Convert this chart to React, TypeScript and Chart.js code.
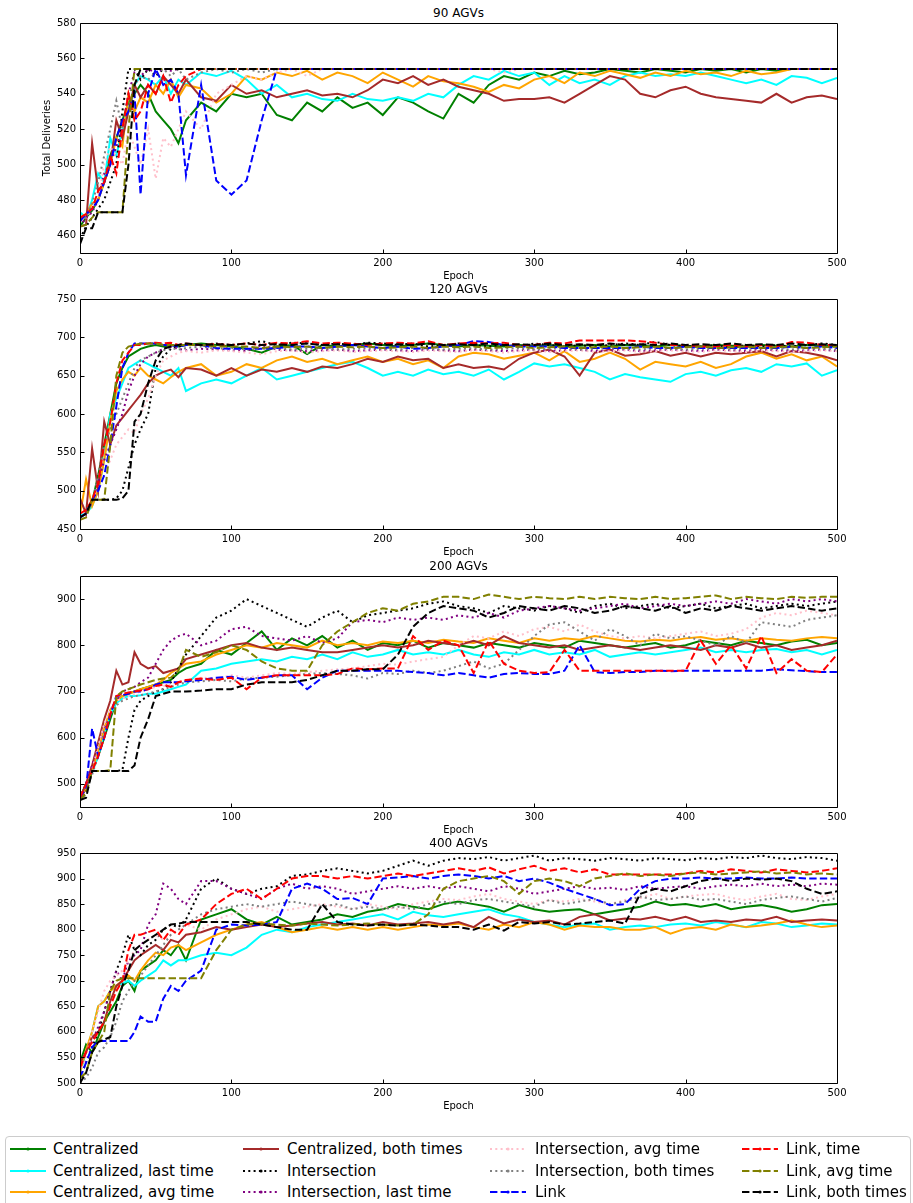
import React, { useEffect, useRef } from "react";
import { Chart, registerables } from "chart.js";

Chart.register(...registerables);

const FONT = '"DejaVu Sans", "Liberation Sans", sans-serif';

// Sampled epochs shared by every series
const EPOCHS = [
  0, 4, 8, 12, 16, 20, 24, 28, 32, 36,
  40, 45, 50, 55, 60, 65, 70, 80, 90, 100,
  110, 120, 130, 140, 150, 160, 170, 180, 190, 200,
  210, 220, 230, 240, 250, 260, 270, 280, 290, 300,
  310, 320, 330, 340, 350, 360, 370, 380, 390, 400,
  410, 420, 430, 440, 450, 460, 470, 480, 490, 500,
];

const X_TICKS = [0, 100, 200, 300, 400, 500];
const Y_TICKS_90 = [460, 480, 500, 520, 540, 560, 580];
const Y_TICKS_120 = [450, 500, 550, 600, 650, 700, 750];
const Y_TICKS_200 = [500, 600, 700, 800, 900];
const Y_TICKS_400 = [500, 550, 600, 650, 700, 750, 800, 850, 900, 950];

const SERIES_LABELS = [
  "Centralized", "Centralized, last time", "Centralized, avg time", "Centralized, both times",
  "Intersection", "Intersection, last time", "Intersection, avg time", "Intersection, both times",
  "Link", "Link, time", "Link, avg time", "Link, both times",
];
const SERIES_COLORS = [
  "#008000", "#00ffff", "#ffa500", "#a52a2a",
  "#000000", "#800080", "#ffc0cb", "#808080",
  "#0000ff", "#ff0000", "#808000", "#000000",
];
const SOLID: number[] = [];
const DOTTED = [2, 3.3];
const DASHED = [7.4, 3.2];
const SERIES_DASH = [
  SOLID, SOLID, SOLID, SOLID,
  DOTTED, DOTTED, DOTTED, DOTTED,
  DASHED, DASHED, DASHED, DASHED,
];

// ---------- 90 AGVs ----------
const centralized90 = [
  465, 470, 474, 480, 490, 505, 515, 525, 535, 540,
  545, 540, 530, 525, 520, 512, 525, 535, 530, 540,
  538, 540, 528, 525, 535, 530, 538, 532, 535, 528,
  538, 535, 530, 526, 540, 535, 545, 550, 548, 552,
  550, 553, 551, 552, 554, 553, 552, 554, 553, 552,
  554, 553, 554, 552, 554, 553, 554, 554, 554, 554,
];
const centralizedLast90 = [
  473, 470, 480, 495, 490, 515, 505, 520, 530, 545,
  550, 548, 545, 550, 540, 548, 545, 552, 550, 553,
  548, 540, 545, 538, 540, 537, 536, 540, 537, 536,
  538, 536, 540, 538, 545, 550, 548, 553, 550, 552,
  545, 550, 546, 548, 545, 550, 552, 550, 551, 550,
  552, 550, 548, 546, 548, 545, 550, 549, 546, 549,
];
const centralizedAvg90 = [
  470, 472, 478, 480, 490, 500, 515, 510, 540, 530,
  538, 535, 545, 540, 548, 538, 545, 543, 535, 540,
  550, 548, 552, 550, 553, 548, 552, 550, 546, 552,
  548, 544, 550, 547, 546, 544, 541, 545, 543, 548,
  550, 546, 552, 550, 553, 551, 549, 552, 550, 553,
  551, 552, 550, 553, 551, 552, 554, 554, 554, 554,
];
const centralizedBoth90 = [
  465, 466, 512, 485, 490, 500, 525, 515, 530, 545,
  538, 545, 540, 550, 545, 540, 548, 538, 536, 545,
  540, 542, 538, 540, 542, 539, 540, 538, 542, 548,
  546, 550, 545, 548, 544, 542, 540, 536, 537, 537,
  538, 535, 540, 545, 550, 548, 540, 538, 542, 544,
  540, 538, 537, 536, 535, 540, 535, 538, 539, 537,
];
const intersection90 = [
  458, 465, 470, 475, 480, 490, 500, 530, 554, 554,
  548, 554, 550, 554, 554, 554, 554, 554, 554, 554,
  554, 554, 554, 554, 554, 554, 554, 554, 554, 554,
  554, 554, 554, 554, 554, 554, 554, 554, 554, 554,
  554, 554, 554, 554, 554, 554, 554, 554, 554, 554,
  554, 554, 554, 554, 554, 554, 554, 554, 554, 554,
];
const intersectionLast90 = [
  465, 470, 473, 480, 495, 500, 510, 520, 540, 552,
  550, 554, 552, 554, 553, 554, 554, 554, 554, 554,
  554, 554, 554, 554, 554, 554, 554, 554, 554, 554,
  554, 554, 554, 554, 554, 554, 554, 554, 554, 554,
  554, 554, 554, 554, 554, 554, 554, 554, 554, 554,
  554, 554, 554, 554, 554, 554, 554, 554, 554, 554,
];
const intersectionAvg90 = [
  468, 470, 475, 480, 500, 510, 505, 500, 520, 510,
  500, 520, 492, 515, 510, 520, 530, 520, 540, 545,
  550, 548, 552, 554, 550, 554, 554, 554, 554, 554,
  554, 554, 554, 554, 554, 554, 554, 552, 554, 554,
  554, 554, 554, 554, 554, 554, 554, 554, 554, 554,
  554, 554, 554, 554, 554, 554, 554, 554, 554, 554,
];
const intersectionBoth90 = [
  468, 470, 478, 490, 505, 520, 536, 520, 540, 545,
  550, 548, 552, 554, 550, 554, 548, 552, 554, 552,
  554, 552, 554, 554, 554, 554, 554, 554, 554, 554,
  554, 554, 554, 554, 554, 554, 554, 554, 554, 554,
  554, 554, 554, 554, 554, 554, 554, 554, 554, 554,
  554, 554, 554, 554, 554, 554, 554, 554, 554, 554,
];
const link90 = [
  468, 472, 475, 480, 490, 500, 515, 525, 530, 540,
  483, 540, 554, 545, 548, 540, 494, 545, 491, 483,
  491, 525, 554, 554, 554, 554, 554, 554, 554, 554,
  554, 554, 554, 554, 554, 554, 554, 554, 554, 554,
  554, 554, 554, 554, 554, 554, 554, 554, 554, 554,
  554, 554, 554, 554, 554, 554, 554, 554, 554, 554,
];
const linkTime90 = [
  470, 472, 475, 485, 490, 505, 495, 520, 540, 525,
  530, 545, 540, 550, 535, 545, 550, 554, 554, 554,
  554, 554, 554, 554, 554, 554, 554, 554, 554, 554,
  554, 554, 554, 554, 554, 554, 554, 554, 554, 554,
  554, 554, 554, 554, 554, 554, 554, 554, 554, 554,
  554, 554, 554, 554, 554, 554, 554, 554, 554, 554,
];
const linkAvg90 = [
  465, 466, 470, 473, 473, 473, 473, 473, 520, 554,
  554, 554, 554, 554, 554, 554, 554, 554, 554, 554,
  554, 554, 554, 554, 554, 554, 554, 554, 554, 554,
  554, 554, 554, 554, 554, 554, 554, 554, 554, 554,
  554, 554, 554, 554, 554, 554, 554, 554, 554, 554,
  554, 554, 554, 554, 554, 554, 554, 554, 554, 554,
];
const linkBoth90 = [
  455, 464, 464, 473, 473, 473, 473, 473, 500, 545,
  554, 554, 554, 554, 554, 554, 554, 554, 554, 554,
  554, 554, 554, 554, 554, 554, 554, 554, 554, 554,
  554, 554, 554, 554, 554, 554, 554, 554, 554, 554,
  554, 554, 554, 554, 554, 554, 554, 554, 554, 554,
  554, 554, 554, 554, 554, 554, 554, 554, 554, 554,
];

// ---------- 120 AGVs ----------
const centralized120 = [
  465, 470, 485, 520, 560, 600, 640, 660, 675, 680,
  685, 688, 690, 688, 690, 688, 690, 692, 690, 688,
  685, 680, 688, 690, 678, 690, 688, 690, 692, 690,
  688, 690, 692, 690, 688, 690, 689, 688, 690, 689,
  690, 688, 689, 690, 688, 690, 689, 688, 690, 689,
  688, 690, 689, 688, 690, 689, 688, 690, 689, 688,
];
const centralizedLast120 = [
  468, 470, 480, 500, 540, 600, 620, 640, 660, 665,
  670, 665, 660, 655, 650, 660, 630, 640, 645, 640,
  650, 660, 645, 650, 655, 660, 665, 668, 660, 650,
  655, 650, 658, 652, 655, 650, 658, 645, 655, 666,
  662, 665, 660, 655, 645, 652, 648, 645, 642, 652,
  655, 650, 657, 660, 655, 665, 662, 666, 650, 657,
];
const centralizedAvg120 = [
  468, 515, 480, 500, 540, 590, 630, 645, 655, 650,
  660, 650, 645, 640, 648, 655, 660, 665, 650, 655,
  665, 660, 670, 675, 668, 672, 665, 670, 675, 668,
  672, 665, 670, 660, 675, 680, 678, 672, 676, 680,
  670, 682, 668, 672, 680, 672, 658, 668, 665, 662,
  668, 660, 665, 675, 680, 672, 678, 670, 675, 662,
];
const centralizedBoth120 = [
  490, 470, 555, 500, 590, 560, 585, 595, 605, 615,
  625, 640, 650, 655, 658, 648, 660, 658, 650, 660,
  650, 658, 655, 660, 655, 662, 660, 665, 672, 668,
  675, 670, 672, 660, 665, 660, 662, 658, 672, 680,
  684, 675, 650, 680, 684, 676, 678, 682, 676, 680,
  675, 680, 678, 680, 682, 675, 682, 680, 676, 670,
];
const intersection120 = [
  465, 470, 488, 488, 488, 488, 490, 500, 530, 560,
  580, 600, 660, 675, 685, 688, 690, 690, 692, 690,
  692, 695, 690, 693, 692, 690, 692, 690, 693, 692,
  690, 692, 688, 690, 692, 690, 688, 690, 688, 692,
  690, 688, 690, 688, 690, 692, 690, 694, 690, 688,
  688, 690, 686, 690, 688, 690, 688, 690, 692, 690,
];
const intersectionLast120 = [
  465, 470, 485, 510, 540, 560, 580, 600, 630, 650,
  665, 675, 680, 685, 688, 685, 683, 685, 684, 683,
  682, 690, 684, 683, 682, 683, 684, 682, 683, 684,
  683, 682, 684, 683, 682, 684, 683, 682, 683, 684,
  682, 683, 684, 682, 683, 684, 682, 683, 684, 683,
  682, 684, 683, 682, 684, 683, 682, 683, 684, 682,
];
const intersectionAvg120 = [
  465, 470, 488, 500, 520, 540, 560, 570, 580, 575,
  600, 620, 650, 670, 675, 680, 682, 680, 683, 682,
  680, 678, 682, 683, 680, 682, 683, 681, 682, 683,
  682, 681, 683, 682, 681, 683, 682, 680, 682, 683,
  681, 682, 683, 681, 682, 683, 681, 682, 683, 682,
  681, 683, 682, 681, 683, 682, 681, 682, 683, 682,
];
const intersectionBoth120 = [
  465, 470, 485, 520, 560, 580, 600, 620, 640, 660,
  670, 675, 680, 683, 686, 684, 686, 688, 685, 686,
  684, 685, 686, 684, 685, 686, 684, 685, 686, 685,
  684, 686, 685, 684, 685, 686, 684, 685, 686, 684,
  685, 686, 684, 685, 686, 685, 684, 686, 685, 684,
  685, 686, 684, 685, 686, 685, 684, 686, 685, 684,
];
const link120 = [
  465, 470, 488, 500, 520, 560, 610, 660, 680, 692,
  692, 692, 692, 690, 690, 688, 690, 690, 686, 685,
  685, 685, 686, 688, 688, 686, 688, 690, 688, 686,
  688, 685, 686, 688, 690, 695, 694, 690, 688, 688,
  688, 686, 686, 686, 686, 686, 688, 686, 686, 688,
  686, 686, 686, 686, 686, 686, 688, 686, 688, 686,
];
const linkTime120 = [
  470, 475, 488, 510, 560, 590, 640, 670, 680, 690,
  690, 692, 693, 692, 693, 690, 692, 690, 691, 690,
  692, 690, 693, 692, 695, 692, 693, 692, 690, 692,
  693, 692, 695, 690, 692, 693, 692, 693, 690, 690,
  693, 692, 696, 696, 696, 696, 695, 693, 690, 690,
  688, 688, 690, 688, 690, 688, 694, 693, 690, 690,
];
const linkAvg120 = [
  462, 465, 488, 488, 488, 560, 650, 680, 688, 690,
  692, 692, 692, 690, 690, 690, 690, 690, 688, 688,
  688, 686, 688, 687, 688, 686, 688, 687, 688, 686,
  687, 688, 686, 688, 687, 688, 686, 687, 688, 686,
  687, 688, 686, 687, 688, 686, 687, 688, 686, 687,
  688, 686, 687, 688, 686, 687, 688, 686, 687, 688,
];
const linkBoth120 = [
  465, 470, 488, 488, 488, 488, 488, 490, 500, 590,
  600, 640, 670, 685, 688, 690, 692, 690, 691, 690,
  692, 690, 691, 690, 692, 690, 691, 690, 692, 690,
  691, 690, 692, 690, 691, 690, 692, 690, 691, 690,
  692, 690, 691, 690, 692, 690, 691, 690, 692, 690,
  691, 690, 692, 690, 691, 690, 692, 690, 691, 690,
];

// ---------- 200 AGVs ----------
const centralized200 = [
  470, 500, 530, 560, 600, 640, 680, 690, 695, 700,
  705, 710, 715, 720, 725, 740, 750, 760, 790, 780,
  805, 830, 790, 815, 800, 820, 795, 810, 790, 805,
  800, 810, 795, 805, 800, 795, 805, 800, 795, 805,
  800, 795, 810, 805, 800, 795, 800, 805, 795, 800,
  810, 805, 800, 810, 805, 800, 808, 812, 800, 805,
];
const centralizedLast200 = [
  470, 495, 525, 560, 610, 650, 675, 685, 690, 690,
  692, 695, 695, 700, 705, 710, 715, 745, 750, 760,
  765, 770, 765, 775, 770, 780, 770, 785, 775, 780,
  790, 780, 785, 780, 790, 780, 775, 785, 780, 790,
  780, 785, 780, 790, 775, 780, 785, 780, 785, 790,
  795, 785, 790, 785, 790, 792, 785, 790, 780, 790,
];
const centralizedAvg200 = [
  465, 490, 530, 570, 620, 660, 680, 690, 695, 700,
  705, 710, 715, 725, 740, 750, 760, 765, 780, 790,
  800, 795, 805, 800, 795, 810, 800, 805, 800, 808,
  805, 810, 805, 812, 808, 805, 815, 810, 805, 815,
  810, 815, 812, 820, 815, 810, 808, 812, 810, 815,
  818, 812, 815, 810, 815, 812, 810, 815, 818, 815,
];
const centralizedBoth200 = [
  470, 500, 540, 590, 640, 680, 745, 715, 720, 785,
  760, 750, 755, 740, 745, 750, 770, 780, 790, 800,
  805, 795, 790, 795, 790, 785, 785, 790, 795, 800,
  795, 800, 810, 805, 800, 810, 800, 820, 805, 800,
  795, 800, 790, 795, 800, 795, 790, 795, 800, 795,
  790, 800, 795, 805, 795, 800, 790, 795, 800, 810,
];
const intersection200 = [
  465, 480, 528, 528, 528, 528, 528, 530, 600, 660,
  680, 690, 700, 705, 720, 750, 780, 820, 860, 875,
  900, 885, 870, 855, 840, 860, 875, 850, 865, 870,
  875, 880, 890, 895, 885, 880, 870, 885, 880, 875,
  885, 880, 870, 885, 890, 880, 885, 890, 880, 885,
  890, 880, 885, 890, 880, 885, 890, 885, 890, 895,
];
const intersectionLast200 = [
  470, 500, 540, 580, 620, 650, 680, 700, 705, 710,
  720, 730, 760, 790, 810, 820, 825, 800, 810, 835,
  840, 820, 815, 810, 820, 805, 815, 850, 855, 850,
  860, 855, 860, 855, 865, 860, 870, 860, 875, 880,
  885, 880, 875, 880, 885, 890, 880, 885, 890, 885,
  890, 895, 890, 900, 895, 890, 900, 895, 900, 895,
];
const intersectionAvg200 = [
  470, 495, 530, 580, 630, 660, 680, 685, 690, 695,
  700, 705, 710, 712, 715, 720, 725, 730, 728, 735,
  730, 735, 740, 738, 742, 745, 748, 750, 755, 760,
  758, 765, 770, 775, 800, 820, 815, 830, 820, 835,
  840, 830, 845, 830, 820, 815, 820, 815, 820, 825,
  830, 820, 825, 835, 860, 870, 865, 875, 870, 865,
];
const intersectionBoth200 = [
  470, 490, 520, 560, 610, 650, 670, 680, 685, 690,
  692, 695, 700, 705, 710, 715, 720, 722, 725, 722,
  728, 730, 732, 735, 738, 740, 738, 735, 728, 740,
  738, 745, 740, 745, 755, 765, 750, 760, 790, 820,
  845, 850, 830, 810, 835, 820, 800, 825, 815, 820,
  810, 800, 820, 805, 850, 845, 840, 855, 860, 865,
];
const link200 = [
  470, 490, 620, 560, 600, 650, 690, 692, 695, 700,
  700, 705, 715, 720, 720, 720, 722, 725, 730, 732,
  725, 730, 735, 735, 705, 730, 745, 745, 745, 745,
  745, 742, 740, 735, 740, 735, 730, 738, 740, 738,
  738, 745, 800, 742, 740, 742, 742, 745, 744, 745,
  745, 745, 745, 745, 745, 748, 746, 744, 742, 742,
];
const linkTime200 = [
  470, 500, 528, 560, 600, 650, 690, 695, 698, 700,
  702, 705, 712, 715, 710, 720, 725, 728, 725, 730,
  705, 730, 735, 735, 735, 735, 738, 750, 748, 750,
  750, 820, 790, 810, 800, 740, 810, 760, 745, 740,
  742, 790, 745, 745, 745, 745, 745, 745, 745, 745,
  810, 760, 800, 750, 820, 740, 770, 745, 742, 780,
];
const linkAvg200 = [
  465, 480, 528, 528, 528, 530, 690, 700, 705, 710,
  715, 720, 725, 728, 730, 745, 790, 775, 785, 800,
  790, 765, 750, 745, 745, 800, 830, 850, 870, 880,
  875, 890, 895, 905, 905, 900, 910, 905, 900, 905,
  902, 900, 905, 900, 905, 902, 900, 905, 900, 902,
  905, 908, 900, 905, 902, 900, 905, 903, 905, 905,
];
const linkBoth200 = [
  465, 470, 528, 528, 528, 528, 528, 528, 528, 540,
  600, 640, 690, 695, 700, 700, 700, 702, 705, 705,
  715, 720, 720, 720, 725, 735, 745, 745, 748, 748,
  780, 840, 870, 885, 880, 875, 860, 870, 885, 880,
  875, 885, 880, 870, 875, 885, 880, 875, 885, 870,
  880, 875, 885, 880, 875, 880, 885, 880, 875, 880,
];

// ---------- 400 AGVs ----------
const centralized400 = [
  540, 575, 560, 590, 620, 640, 660, 690, 700, 680,
  720, 730, 740, 760, 750, 770, 740, 820, 830, 840,
  820, 810, 825, 810, 815, 820, 830, 825, 835, 840,
  850, 845, 840, 850, 855, 850, 845, 835, 848, 840,
  835, 838, 840, 830, 835, 840, 845, 855, 848, 850,
  845, 850, 840, 845, 848, 843, 835, 840, 848, 850,
];
const centralizedLast400 = [
  520, 560, 600, 650, 660, 680, 690, 695, 700, 690,
  700, 710, 720, 740, 730, 740, 740, 750, 755, 750,
  765, 790, 800, 795, 805, 810, 815, 820, 825, 830,
  820, 835, 828, 825, 830, 835, 840, 830, 825, 815,
  810, 805, 810, 812, 800, 805, 808, 805, 810, 812,
  808, 815, 810, 805, 815, 812, 805, 808, 812, 810,
];
const centralizedAvg400 = [
  520, 565, 600, 650, 660, 680, 690, 700, 710, 700,
  720, 740, 755, 750, 765, 770, 760, 775, 790, 800,
  810, 815, 805, 795, 800, 805, 800, 805, 800, 805,
  800, 805, 810, 808, 812, 805, 800, 810, 805, 815,
  810, 800, 808, 805, 805, 800, 800, 805, 792, 802,
  805, 800, 810, 805, 808, 812, 818, 810, 805, 808,
];
const centralizedBoth400 = [
  540, 560, 590, 600, 620, 660, 690, 700, 720, 740,
  750, 760, 770, 760, 780, 775, 790, 795, 805, 800,
  805, 810, 805, 808, 812, 815, 810, 812, 808, 815,
  810, 812, 815, 810, 815, 805, 825, 812, 820, 815,
  818, 810, 825, 830, 818, 822, 820, 825, 818, 825,
  815, 818, 815, 820, 818, 825, 815, 818, 820, 818,
];
const intersection400 = [
  510, 540, 570, 600, 640, 680, 720, 750, 790, 760,
  750, 770, 780, 800, 810, 805, 820, 880, 900, 880,
  870, 880, 885, 905, 908, 915, 920, 915, 910, 915,
  925, 935, 925, 935, 940, 938, 942, 935, 940, 945,
  935, 940, 938, 935, 940, 938, 935, 940, 938, 936,
  940, 938, 942, 940, 945, 940, 938, 942, 940, 935,
];
const intersectionLast400 = [
  520, 560, 580, 610, 640, 680, 720, 700, 740, 750,
  760, 810, 830, 890, 880, 860, 850, 895, 895, 880,
  870, 860, 880, 890, 880, 885, 880, 870, 875, 880,
  885, 880, 885, 880, 885, 880, 875, 885, 880, 870,
  875, 880, 885, 880, 882, 878, 885, 880, 883, 885,
  880, 885, 888, 885, 890, 885, 888, 885, 890, 888,
];
const intersectionAvg400 = [
  520, 550, 600, 640, 680, 700, 710, 720, 740, 760,
  770, 780, 790, 780, 790, 800, 810, 800, 820, 830,
  840, 845, 835, 840, 845, 850, 845, 840, 850, 845,
  840, 850, 855, 860, 858, 865, 870, 860, 855, 850,
  858, 855, 860, 855, 850, 858, 862, 870, 860, 865,
  868, 870, 862, 858, 865, 870, 860, 858, 865, 870,
];
const intersectionBoth400 = [
  500, 510, 530, 560, 570, 590, 620, 660, 680, 700,
  710, 730, 750, 770, 790, 800, 810, 830, 840, 845,
  850, 845, 850, 855, 850, 845, 850, 840, 845, 840,
  845, 840, 850, 855, 850, 858, 860, 855, 850, 845,
  858, 850, 855, 860, 850, 855, 865, 858, 860, 865,
  858, 860, 855, 850, 858, 862, 865, 860, 855, 862,
];
const link400 = [
  510, 540, 570, 582, 582, 582, 582, 582, 582, 600,
  630, 620, 620, 665, 690, 680, 700, 720, 800, 810,
  808, 810, 815, 880, 890, 880, 860, 862, 850, 900,
  902, 905, 900, 905, 908, 905, 900, 905, 895, 900,
  892, 880, 870, 860, 848, 850, 880, 895, 900, 900,
  902, 900, 900, 902, 900, 900, 902, 900, 900, 900,
];
const linkTime400 = [
  530, 560, 580, 600, 620, 650, 680, 700, 760, 790,
  790, 795, 800, 780, 800, 790, 810, 820, 850, 870,
  880, 860, 880, 900, 905, 905, 900, 905, 900, 905,
  910, 905, 910, 915, 920, 915, 922, 910, 918, 925,
  915, 920, 912, 918, 908, 908, 908, 908, 908, 910,
  915, 912, 918, 915, 912, 918, 915, 912, 915, 920,
];
const linkAvg400 = [
  510, 520, 560, 580, 600, 680, 700, 705, 705, 705,
  705, 705, 705, 705, 705, 705, 705, 705, 760, 800,
  810, 812, 810, 808, 812, 810, 808, 810, 812, 810,
  808, 810, 830, 880, 895, 900, 905, 895, 870, 895,
  900, 895, 885, 900, 905, 910, 905, 908, 905, 910,
  912, 908, 910, 912, 914, 910, 912, 908, 910, 908,
];
const linkBoth400 = [
  500, 520, 560, 580, 585, 590, 650, 690, 720, 760,
  770, 780, 790, 800, 810, 812, 815, 815, 815, 815,
  815, 810, 805, 800, 800, 850, 815, 810, 808, 810,
  808, 810, 808, 805, 805, 800, 810, 798, 815, 812,
  815, 810, 812, 815, 818, 812, 870, 880, 875, 885,
  895, 900, 895, 900, 898, 900, 895, 880, 870, 875,
];

type PanelDef = {
  title: string;
  top: number;
  height: number;
  yMin: number;
  yMax: number;
  yTicks: number[];
  yLabel?: string;
  series: number[][];
};

const PLOT_LEFT = 80;
const PLOT_RIGHT = 837;
const PAD_TOP = 10;
const X_AXIS_H = 24;

const PANELS: PanelDef[] = [
  {
    title: "90 AGVs", top: 23, height: 230, yMin: 450, yMax: 580, yTicks: Y_TICKS_90,
    yLabel: "Total Deliveries",
    series: [centralized90, centralizedLast90, centralizedAvg90, centralizedBoth90,
      intersection90, intersectionLast90, intersectionAvg90, intersectionBoth90,
      link90, linkTime90, linkAvg90, linkBoth90],
  },
  {
    title: "120 AGVs", top: 299, height: 230, yMin: 450, yMax: 750, yTicks: Y_TICKS_120,
    series: [centralized120, centralizedLast120, centralizedAvg120, centralizedBoth120,
      intersection120, intersectionLast120, intersectionAvg120, intersectionBoth120,
      link120, linkTime120, linkAvg120, linkBoth120],
  },
  {
    title: "200 AGVs", top: 576, height: 231, yMin: 450, yMax: 950, yTicks: Y_TICKS_200,
    series: [centralized200, centralizedLast200, centralizedAvg200, centralizedBoth200,
      intersection200, intersectionLast200, intersectionAvg200, intersectionBoth200,
      link200, linkTime200, linkAvg200, linkBoth200],
  },
  {
    title: "400 AGVs", top: 853, height: 230, yMin: 500, yMax: 950, yTicks: Y_TICKS_400,
    series: [centralized400, centralizedLast400, centralizedAvg400, centralizedBoth400,
      intersection400, intersectionLast400, intersectionAvg400, intersectionBoth400,
      link400, linkTime400, linkAvg400, linkBoth400],
  },
];

// Axes frame plus inward-pointing ticks on the bottom and left spines
const framePlugin = {
  id: "frame",
  afterDraw(chart: any) {
    const { ctx, chartArea: a, scales } = chart;
    const l = Math.round(a.left) + 0.5;
    const r = Math.round(a.right) + 0.5;
    const t = Math.round(a.top) + 0.5;
    const b = Math.round(a.bottom) + 0.5;
    ctx.save();
    ctx.strokeStyle = "#000";
    ctx.lineWidth = 1;
    ctx.beginPath();
    ctx.rect(l, t, r - l, b - t);
    for (const tk of scales.x.ticks) {
      const px = Math.round(scales.x.getPixelForValue(tk.value)) + 0.5;
      ctx.moveTo(px, b);
      ctx.lineTo(px, b - 4);
    }
    for (const tk of scales.y.ticks) {
      const py = Math.round(scales.y.getPixelForValue(tk.value)) + 0.5;
      ctx.moveTo(l, py);
      ctx.lineTo(l + 4, py);
    }
    ctx.stroke();
    ctx.restore();
  },
};

function Panel({ def }: { def: PanelDef }) {
  const ref = useRef<HTMLCanvasElement | null>(null);
  const canvasH = PAD_TOP + def.height + X_AXIS_H;

  useEffect(() => {
    if (!ref.current) return;
    const tickFont = { family: FONT, size: 10 };
    const chart = new Chart(ref.current, {
      type: "line",
      data: {
        datasets: def.series.map((vals, i) => ({
          label: SERIES_LABELS[i],
          data: EPOCHS.map((e, j) => ({ x: e, y: vals[j] })),
          borderColor: SERIES_COLORS[i],
          backgroundColor: SERIES_COLORS[i],
          borderWidth: 2,
          borderDash: SERIES_DASH[i],
          pointRadius: 0,
          tension: 0,
          fill: false,
          order: SERIES_LABELS.length - i,
        })),
      },
      options: {
        responsive: false,
        animation: false,
        devicePixelRatio: 1,
        events: [],
        layout: { padding: { top: PAD_TOP, right: 913 - PLOT_RIGHT, left: 0, bottom: 0 } },
        plugins: {
          legend: { display: false },
          tooltip: { enabled: false },
          title: { display: false },
        },
        scales: {
          x: {
            type: "linear",
            min: 0,
            max: 500,
            grid: { display: false, drawTicks: false },
            border: { display: false },
            ticks: { font: tickFont, color: "#000", padding: 4, maxRotation: 0, autoSkip: false },
            afterBuildTicks: (s: any) => {
              s.ticks = X_TICKS.map((v) => ({ value: v }));
            },
            afterFit: (s: any) => {
              s.height = X_AXIS_H;
            },
          },
          y: {
            type: "linear",
            min: def.yMin,
            max: def.yMax,
            grid: { display: false, drawTicks: false },
            border: { display: false },
            ticks: { font: tickFont, color: "#000", padding: 4, autoSkip: false },
            afterBuildTicks: (s: any) => {
              s.ticks = def.yTicks.map((v) => ({ value: v }));
            },
            afterFit: (s: any) => {
              s.width = PLOT_LEFT;
            },
          },
        },
      } as any,
      plugins: [framePlugin],
    });
    return () => chart.destroy();
  }, [def]);

  const midX = (PLOT_LEFT + PLOT_RIGHT) / 2;
  const bottom = def.top + def.height;
  return (
    <>
      <div
        style={{
          position: "absolute", left: midX - 100, width: 200, top: def.top - 18,
          textAlign: "center", fontSize: 12, lineHeight: "16px", color: "#000",
        }}
      >
        {def.title}
      </div>
      <canvas
        ref={ref}
        width={913}
        height={canvasH}
        style={{ position: "absolute", left: 0, top: def.top - PAD_TOP, width: 913, height: canvasH }}
      />
      <div
        style={{
          position: "absolute", left: midX - 100, width: 200, top: bottom + 16,
          textAlign: "center", fontSize: 10, lineHeight: "13px", color: "#000",
        }}
      >
        Epoch
      </div>
      {def.yLabel && (
        <div
          style={{
            position: "absolute", left: 47 - 100, top: def.top + def.height / 2 - 7, width: 200,
            textAlign: "center", fontSize: 10, lineHeight: "14px", color: "#000",
            transform: "rotate(-90deg)",
          }}
        >
          {def.yLabel}
        </div>
      )}
    </>
  );
}

const LEGEND_COL_LINE_X = [10, 243, 490, 742];
const LEGEND_COL_TEXT_X = [53, 287, 535, 786];
const LEGEND_ROW_Y = [1149, 1170.5, 1192];

function Legend() {
  return (
    <>
      <div
        style={{
          position: "absolute", left: 5, top: 1136, width: 906, height: 90,
          border: "1px solid #cccccc", borderRadius: 4, background: "#fff", boxSizing: "border-box",
        }}
      />
      {SERIES_LABELS.map((label, i) => {
        const col = Math.floor(i / 3);
        const row = i % 3;
        const cy = LEGEND_ROW_Y[row];
        const color = SERIES_COLORS[i];
        const dash = SERIES_DASH[i];
        return (
          <React.Fragment key={label}>
            <svg
              width={36}
              height={10}
              style={{ position: "absolute", left: LEGEND_COL_LINE_X[col], top: cy - 5 }}
            >
              <line
                x1={0} y1={5} x2={36} y2={5}
                stroke={color} strokeWidth={2}
                strokeDasharray={dash.length ? dash.join(" ") : undefined}
              />
              <circle cx={18} cy={5} r={1.6} fill={color} />
            </svg>
            <div
              style={{
                position: "absolute", left: LEGEND_COL_TEXT_X[col], top: cy - 9,
                fontSize: 15, lineHeight: "18px", whiteSpace: "nowrap", color: "#000",
              }}
            >
              {label}
            </div>
          </React.Fragment>
        );
      })}
    </>
  );
}

export default function App() {
  return (
    <div
      style={{
        position: "fixed", left: 0, top: 0, width: 913, height: 1203, overflow: "hidden",
        background: "#fff", fontFamily: FONT,
      }}
    >
      {PANELS.map((p) => (
        <Panel key={p.title} def={p} />
      ))}
      <Legend />
    </div>
  );
}
